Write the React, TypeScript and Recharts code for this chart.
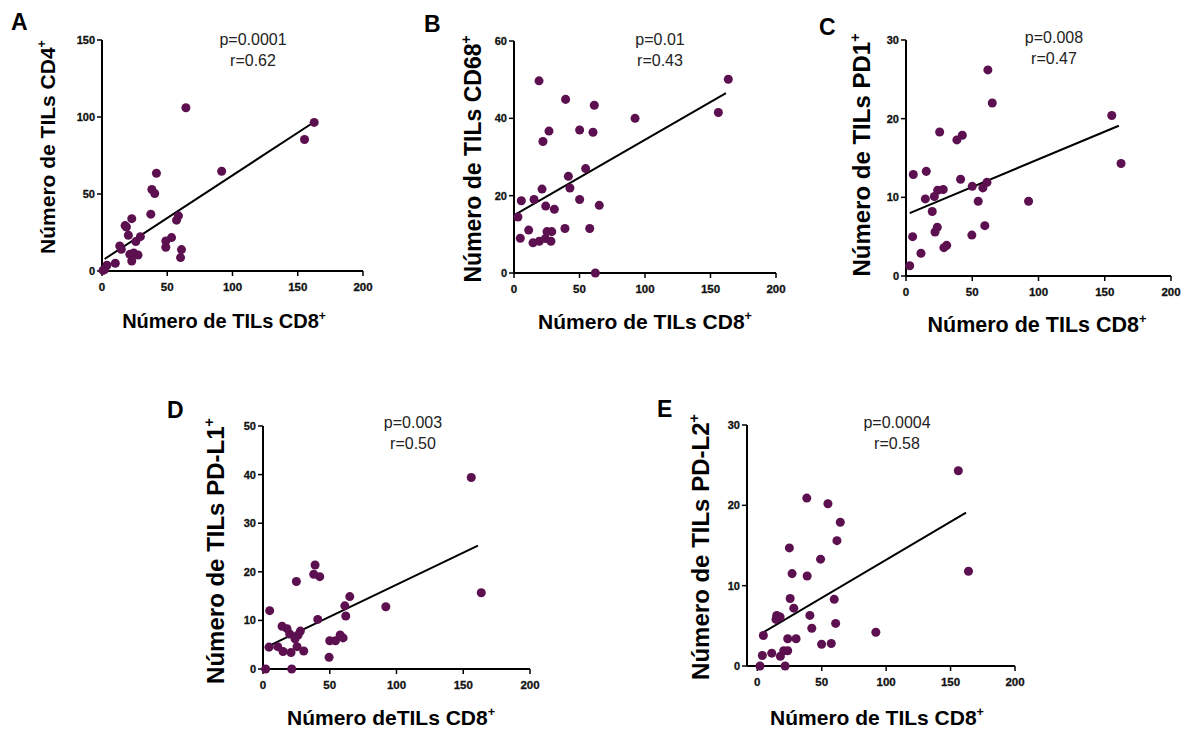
import React from 'react';
import { ScatterChart, Scatter, XAxis, YAxis, ReferenceLine } from 'recharts';

const xTicks = [0, 50, 100, 150, 200];

const cd4Points = [
  { x: 64.3, y: 106 }, { x: 162.6, y: 96.5 }, { x: 155.2, y: 85.4 }, { x: 91.7, y: 64.8 },
  { x: 41.7, y: 63.5 }, { x: 38.2, y: 52.9 }, { x: 40.4, y: 50.3 }, { x: 37.4, y: 36.9 },
  { x: 58.6, y: 35.8 }, { x: 57.1, y: 33 }, { x: 22.8, y: 34 }, { x: 17.7, y: 29.5 },
  { x: 18.7, y: 28.6 }, { x: 20.2, y: 23.2 }, { x: 29.4, y: 22.3 }, { x: 25.9, y: 19.1 },
  { x: 13.6, y: 16.3 }, { x: 14.8, y: 14.1 }, { x: 48.9, y: 19.5 }, { x: 53.3, y: 21.7 },
  { x: 48.9, y: 15.4 }, { x: 60.9, y: 13.9 }, { x: 60.2, y: 8.7 }, { x: 21.3, y: 10.8 },
  { x: 24.3, y: 11.7 }, { x: 27.6, y: 10.4 }, { x: 22.8, y: 6.5 }, { x: 10.2, y: 5 },
  { x: 3.8, y: 3.7 }, { x: 2, y: 0.9 }, { x: 0.8, y: 0.4 },
];
const cd4Fit = [{ x: 2, y: 7.8 }, { x: 160.8, y: 95.8 }];
const cd4Ticks = [0, 50, 100, 150];

const cd68Points = [
  { x: 163.6, y: 50.1 }, { x: 19.1, y: 49.7 }, { x: 39.4, y: 44.9 }, { x: 61.3, y: 43.4 },
  { x: 156, y: 41.5 }, { x: 92.4, y: 40 }, { x: 50.1, y: 37 }, { x: 26.7, y: 36.7 },
  { x: 60.3, y: 36.4 }, { x: 22.1, y: 34 }, { x: 54.7, y: 27 }, { x: 41.5, y: 25 },
  { x: 42.7, y: 22 }, { x: 21.4, y: 21.7 }, { x: 5.6, y: 18.7 }, { x: 15.3, y: 19 },
  { x: 50.1, y: 19 }, { x: 24.2, y: 17.3 }, { x: 65.1, y: 17.5 }, { x: 30.8, y: 16.5 },
  { x: 3, y: 14.5 }, { x: 11.2, y: 11.1 }, { x: 4.8, y: 9 }, { x: 38.9, y: 11.5 },
  { x: 57.8, y: 11.5 }, { x: 25.2, y: 10.7 }, { x: 28.8, y: 10.7 }, { x: 14.5, y: 7.8 },
  { x: 19.3, y: 8.2 }, { x: 23.9, y: 8.9 }, { x: 28.2, y: 8.2 }, { x: 62.1, y: 0 },
];
const cd68Fit = [{ x: 1.5, y: 15.2 }, { x: 161.8, y: 46.5 }];
const cd68Ticks = [0, 20, 40, 60];

const pd1Points = [
  { x: 61.8, y: 26.2 }, { x: 65.1, y: 22 }, { x: 155.3, y: 20.4 }, { x: 25.4, y: 18.3 },
  { x: 42.5, y: 17.9 }, { x: 38.4, y: 17.3 }, { x: 162.3, y: 14.3 }, { x: 15.3, y: 13.3 },
  { x: 5.5, y: 12.9 }, { x: 41.2, y: 12.3 }, { x: 61.1, y: 11.9 }, { x: 58, y: 11.2 },
  { x: 50, y: 11.4 }, { x: 28.1, y: 11 }, { x: 23.9, y: 10.9 }, { x: 21.4, y: 10.1 },
  { x: 14.6, y: 9.8 }, { x: 54.5, y: 9.5 }, { x: 92.5, y: 9.5 }, { x: 19.8, y: 8.2 },
  { x: 23.6, y: 6.2 }, { x: 21.9, y: 5.6 }, { x: 59.5, y: 6.4 }, { x: 49.7, y: 5.2 },
  { x: 5, y: 5 }, { x: 30.7, y: 3.9 }, { x: 28.6, y: 3.6 }, { x: 11.3, y: 2.9 }, { x: 2.8, y: 1.3 },
];
const pd1Fit = [{ x: 2.8, y: 8.0 }, { x: 160.6, y: 19.1 }];
const pd1Ticks = [0, 10, 20, 30];

const pdl1Points = [
  { x: 156, y: 39.4 }, { x: 39, y: 21.4 }, { x: 38, y: 19.5 }, { x: 42.5, y: 19 },
  { x: 25, y: 18 }, { x: 65, y: 14.9 }, { x: 163.5, y: 15.7 }, { x: 92, y: 12.8 },
  { x: 61.3, y: 13 }, { x: 62, y: 10.9 }, { x: 41, y: 10.2 }, { x: 5, y: 12 },
  { x: 14.3, y: 8.8 }, { x: 18, y: 8.3 }, { x: 28, y: 7.8 }, { x: 20, y: 7.2 },
  { x: 26.3, y: 7 }, { x: 24, y: 6.2 }, { x: 50, y: 5.8 }, { x: 54.3, y: 5.8 },
  { x: 57.8, y: 7 }, { x: 60, y: 6.4 }, { x: 4.5, y: 4.5 }, { x: 11, y: 4.6 },
  { x: 15, y: 3.6 }, { x: 21, y: 3.4 }, { x: 25.5, y: 4.6 }, { x: 30.5, y: 3.7 },
  { x: 49.5, y: 2.4 }, { x: 2, y: 0 }, { x: 21.5, y: 0 },
];
const pdl1Fit = [{ x: 2.5, y: 4.5 }, { x: 161, y: 25.4 }];
const pdl1Ticks = [0, 10, 20, 30, 40, 50];

const pdl2Points = [
  { x: 156, y: 24.3 }, { x: 38.4, y: 20.9 }, { x: 54.8, y: 20.2 }, { x: 163.9, y: 11.8 },
  { x: 64.4, y: 17.9 }, { x: 61.8, y: 15.6 }, { x: 24.9, y: 14.7 }, { x: 49.1, y: 13.3 },
  { x: 27, y: 11.5 }, { x: 38.7, y: 11.2 }, { x: 25.5, y: 8.4 }, { x: 59.7, y: 8.3 },
  { x: 28.3, y: 7.2 }, { x: 40.8, y: 6.3 }, { x: 15.1, y: 6.3 }, { x: 17.7, y: 6.1 },
  { x: 14.5, y: 5.8 }, { x: 60.8, y: 5.3 }, { x: 42.3, y: 4.7 }, { x: 92, y: 4.2 },
  { x: 4.7, y: 3.8 }, { x: 23.6, y: 3.4 }, { x: 30.1, y: 3.4 }, { x: 49.9, y: 2.7 },
  { x: 57.4, y: 2.8 }, { x: 3.9, y: 1.3 }, { x: 11.2, y: 1.6 }, { x: 17.9, y: 1.2 },
  { x: 20.5, y: 1.9 }, { x: 23.6, y: 1.9 }, { x: 2.1, y: 0 }, { x: 21.6, y: 0 },
];
const pdl2Fit = [{ x: 2.6, y: 4.0 }, { x: 162, y: 19.1 }];
const pdl2Ticks = [0, 10, 20, 30];

const COLOR = '#5c1050';
const FONT = '"Liberation Sans", Arial, Helvetica, sans-serif';

const XTick = (props: any) => {
  const { x, y, payload } = props;
  return (
    <text
      x={x} y={y}
      textAnchor="middle"
      dy={13}
      fontSize={11.5}
      fontWeight="bold"
      fontFamily={FONT}
      fill="#111"
      stroke="#111"
      strokeWidth={0.3}
    >
      {payload.value}
    </text>
  );
};

const YTick = (props: any) => {
  const { x, y, payload } = props;
  return (
    <text
      x={x} y={y}
      textAnchor="end"
      dy={4}
      fontSize={11}
      fontWeight="bold"
      fontFamily={FONT}
      fill="#111"
      stroke="#111"
      strokeWidth={0.3}
    >
      {payload.value}
    </text>
  );
};

type PanelProps = {
  left: number; top: number; w: number; h: number;
  xDomain: [number, number]; yDomain: [number, number]; yTicks: number[];
  points: { x: number; y: number }[]; fit: { x: number; y: number }[];
};

const Panel = ({ left, top, w, h, xDomain, yDomain, yTicks, points, fit }: PanelProps) => {
  const mL = 40, mT = 10, mR = 14, xH = 30;
  return (
    <div style={{ position: 'absolute', left: left - mL, top: top - mT }}>
      <ScatterChart width={w + mL + mR} height={h + mT + xH} margin={{ top: mT, right: mR, left: 0, bottom: 0 }}>
        <XAxis
          type="number" dataKey="x" domain={xDomain} ticks={xTicks} interval={0} height={xH}
          axisLine={{ stroke: '#000', strokeWidth: 2 }} tickLine={{ stroke: '#000', strokeWidth: 1.5 }}
          tickSize={5} tick={(p: any) => <XTick {...p} />}
        />
        <YAxis
          type="number" dataKey="y" domain={yDomain} ticks={yTicks} interval={0} width={mL}
          axisLine={{ stroke: '#000', strokeWidth: 2 }} tickLine={{ stroke: '#000', strokeWidth: 1.5 }}
          tickSize={5} tick={(p: any) => <YTick {...p} />}
        />
        <Scatter data={points} fill={COLOR} isAnimationActive={false} />
        <ReferenceLine segment={fit} stroke="#000" strokeWidth={2} ifOverflow="visible" />
      </ScatterChart>
    </div>
  );
};

const YLabel = ({ x, y, size, text }: { x: number; y: number; size: number; text: string }) => (
  <text
    transform={`translate(${x},${y}) rotate(-90)`}
    textAnchor="middle" fontSize={size} fontWeight="bold" fontFamily={FONT} fill="#000"
  >
    {text}
    <tspan dy={-size * 0.42} fontSize={size * 0.6}>+</tspan>
  </text>
);

const XLabel = ({ x, y, size, text }: { x: number; y: number; size: number; text: string }) => (
  <text x={x} y={y} textAnchor="middle" fontSize={size} fontWeight="bold" fontFamily={FONT} fill="#000">
    {text}
    <tspan dy={-size * 0.42} fontSize={size * 0.6}>+</tspan>
  </text>
);

const Letter = ({ x, y, t }: { x: number; y: number; t: string }) => (
  <text x={x} y={y} fontSize={23} fontWeight="bold" fontFamily={FONT} fill="#000">{t}</text>
);

const Stat = ({ x, y, p, r }: { x: number; y: number; p: string; r: string }) => (
  <g fontSize={16} fontFamily={FONT} fill="#222" textAnchor="middle">
    <text x={x} y={y}>{p}</text>
    <text x={x} y={y + 21}>{r}</text>
  </g>
);

export default function App() {
  return (
    <div style={{ position: 'absolute', left: 0, top: 0, width: 1188, height: 733, background: '#fff', overflow: 'hidden' }}>
      <Panel left={102} top={40} w={261} h={231} xDomain={[0, 200]} yDomain={[0, 150]} yTicks={cd4Ticks} points={cd4Points} fit={cd4Fit} />
      <Panel left={514} top={41} w={262} h={232} xDomain={[0, 200]} yDomain={[0, 60]} yTicks={cd68Ticks} points={cd68Points} fit={cd68Fit} />
      <Panel left={906} top={40} w={265} h={236} xDomain={[0, 200]} yDomain={[0, 30]} yTicks={pd1Ticks} points={pd1Points} fit={pd1Fit} />
      <Panel left={263} top={426} w={267} h={243} xDomain={[0, 200]} yDomain={[0, 50]} yTicks={pdl1Ticks} points={pdl1Points} fit={pdl1Fit} />
      <Panel left={747} top={425} w={268} h={241} xDomain={[-8, 200]} yDomain={[0, 30]} yTicks={pdl2Ticks} points={pdl2Points} fit={pdl2Fit} />
      <svg width={1188} height={733} style={{ position: 'absolute', left: 0, top: 0, pointerEvents: 'none' }}>
        <Letter x={11} y={30} t="A" />
        <Letter x={424} y={32} t="B" />
        <Letter x={819} y={35} t="C" />
        <Letter x={167} y={418} t="D" />
        <Letter x={657} y={417} t="E" />

        <YLabel x={55} y={147} size={21} text="Número de TILs CD4" />
        <YLabel x={481} y={159} size={23} text="Número de TILs CD68" />
        <YLabel x={870} y={155} size={24} text="Número de TILs PD1" />
        <YLabel x={224} y={551} size={24} text="Número de TILs PD-L1" />
        <YLabel x={709} y={547} size={24} text="Número de TILs PD-L2" />

        <XLabel x={224} y={328} size={20} text="Número de TILs CD8" />
        <XLabel x={645} y={329} size={21} text="Número de TILs CD8" />
        <XLabel x={1037} y={332} size={21.5} text="Número de TILs CD8" />
        <XLabel x={391} y={725} size={21} text="Número deTILs CD8" />
        <XLabel x={877} y={725} size={21} text="Número de TILs CD8" />

        <Stat x={253} y={45} p="p=0.0001" r="r=0.62" />
        <Stat x={660} y={45} p="p=0.01" r="r=0.43" />
        <Stat x={1054} y={43} p="p=0.008" r="r=0.47" />
        <Stat x={413} y={428} p="p=0.003" r="r=0.50" />
        <Stat x={897} y={428} p="p=0.0004" r="r=0.58" />
      </svg>
    </div>
  );
}
